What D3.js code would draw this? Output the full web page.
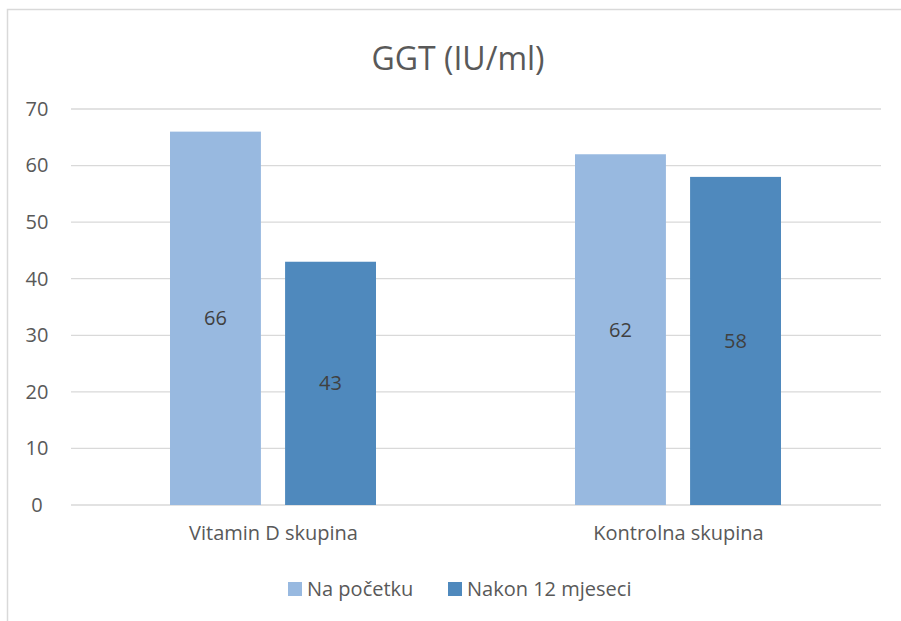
<!DOCTYPE html>
<html>
<head>
<meta charset="utf-8">
<script src="https://cdn.jsdelivr.net/npm/d3@7"></script>
<style>
  body { margin: 0; background: #fff; }
  text { font-family: "Open Sans", "Noto Sans", sans-serif; fill: #595959; }
</style>
</head>
<body>
<div id="chart"></div>
<script>
// data
var categories = ["Vitamin D skupina", "Kontrolna skupina"];
var seriesNames = ["Na početku", "Nakon 12 mjeseci"];
var naPocetku = [66, 62];
var nakon12 = [43, 58];
var yTicks = [0, 10, 20, 30, 40, 50, 60, 70];
var colors = ["#98B9E0", "#4F89BD"];

var W = 901, H = 621;
var margin = { top: 109, right: 20, bottom: 116, left: 71 },
    width = 881 - margin.left,
    height = 505 - margin.top;

var svg = d3.select("#chart").append("svg")
    .attr("width", W)
    .attr("height", H);

// chart border
svg.append("rect")
    .attr("x", 7.5).attr("y", 9.5)
    .attr("width", W).attr("height", H)
    .attr("fill", "none")
    .attr("stroke", "#d9d9d9")
    .attr("stroke-width", 1.5);

svg.append("text")
    .attr("x", 458).attr("y", 70)
    .attr("text-anchor", "middle")
    .style("font-size", "32px")
    .text("GGT (IU/ml)");

var g = svg.append("g")
    .attr("transform", "translate(" + margin.left + "," + margin.top + ")");

var x0 = d3.scaleBand().domain(categories).range([0, width]).paddingInner(0).paddingOuter(0);
var x1 = d3.scaleBand().domain(seriesNames)
    .range([99, 305]).paddingInner(0.21);
var y = d3.scaleLinear().domain([0, 70]).range([height, 0]);

// gridlines
g.selectAll(".grid").data(yTicks).enter().append("line")
    .attr("x1", 0).attr("x2", width)
    .attr("y1", d => y(d)).attr("y2", d => y(d))
    .attr("stroke", "#d9d9d9")
    .attr("stroke-width", 1.3);

// y axis labels
var yAxis = g.append("g").call(d3.axisLeft(y).tickValues(yTicks).tickSize(0));
yAxis.select(".domain").remove();
yAxis.selectAll("text").style("font-size", "20px").attr("text-anchor", "middle").attr("x", -34).attr("fill", "#595959");

var rows = categories.map((c, i) => ({ cat: c, vals: [naPocetku[i], nakon12[i]] }));

var grp = g.selectAll(".grp").data(rows).enter().append("g")
    .attr("transform", d => "translate(" + x0(d.cat) + ",0)");

grp.selectAll("rect").data(d => d.vals.map((v, j) => ({ s: seriesNames[j], v: v, j: j })))
    .enter().append("rect")
    .attr("x", d => x1(d.s))
    .attr("width", x1.bandwidth())
    .attr("y", d => y(d.v))
    .attr("height", d => height - y(d.v))
    .attr("fill", d => colors[d.j]);

grp.selectAll(".lbl").data(d => d.vals.map((v, j) => ({ s: seriesNames[j], v: v })))
    .enter().append("text")
    .attr("x", d => x1(d.s) + x1.bandwidth() / 2)
    .attr("y", d => y(d.v / 2))
    .attr("dy", "0.35em")
    .attr("text-anchor", "middle")
    .style("font-size", "20px")
    .style("fill", "#404040")
    .text(d => d.v);

// x axis labels
var xAxis = g.append("g").attr("transform", "translate(0," + height + ")")
    .call(d3.axisBottom(x0).tickSize(0).tickPadding(21));
xAxis.select(".domain").remove();
xAxis.selectAll("text").style("font-size", "20px").attr("fill", "#595959");

// legend
var legX = [288, 448];
var leg = svg.selectAll(".leg").data(seriesNames).enter().append("g")
    .attr("transform", (d, i) => "translate(" + legX[i] + ",582)");
leg.append("rect").attr("width", 14).attr("height", 14).attr("fill", (d, i) => colors[i]);
leg.append("text").attr("x", 19).attr("y", 7).attr("dy", "0.35em")
    .style("font-size", "20px").text(d => d);
</script>
</body>
</html>
